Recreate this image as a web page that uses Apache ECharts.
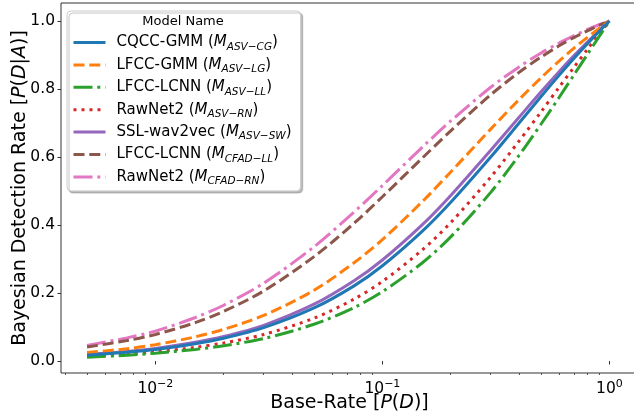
<!DOCTYPE html>
<html>
<head>
<meta charset="utf-8">
<script src="https://cdn.jsdelivr.net/npm/echarts@6/dist/echarts.min.js"></script>
<style>
  html, body { margin: 0; padding: 0; background: #fff; }
  #chart { width: 634px; height: 412px; }
</style>
</head>
<body>
<div id="chart"></div>
<script>
// base rates P(D) and P(D|A)
var baseRate = [0.005, 0.0075, 0.01, 0.015, 0.02, 0.03, 0.05, 0.075, 0.1, 0.15, 0.2, 0.3, 0.4, 0.5, 0.6, 0.7, 0.8, 0.9, 1.0]

var cqccGmm = [0.017, 0.026, 0.034, 0.051, 0.067, 0.098, 0.156, 0.221, 0.280, 0.382, 0.467, 0.600, 0.700, 0.778, 0.840, 0.891, 0.933, 0.969, 1.0]
var lfccGmm = [0.025, 0.036, 0.048, 0.071, 0.093, 0.134, 0.208, 0.289, 0.357, 0.469, 0.556, 0.682, 0.769, 0.833, 0.882, 0.921, 0.952, 0.978, 1.0]
var lfccLcnn = [0.011, 0.017, 0.023, 0.034, 0.045, 0.066, 0.108, 0.157, 0.204, 0.289, 0.365, 0.496, 0.605, 0.697, 0.775, 0.843, 0.902, 0.954, 1.0]
var rawNet2 = [0.014, 0.020, 0.027, 0.040, 0.053, 0.078, 0.126, 0.182, 0.234, 0.327, 0.407, 0.541, 0.647, 0.733, 0.805, 0.865, 0.917, 0.961, 1.0]
var sslWav2vec = [0.019, 0.028, 0.037, 0.055, 0.072, 0.105, 0.167, 0.236, 0.297, 0.401, 0.487, 0.620, 0.717, 0.792, 0.851, 0.899, 0.938, 0.972, 1.0]
var cfadLcnn = [0.041, 0.060, 0.078, 0.113, 0.146, 0.206, 0.307, 0.405, 0.483, 0.597, 0.677, 0.783, 0.849, 0.894, 0.927, 0.952, 0.971, 0.987, 1.0]
var cfadRawNet2 = [0.046, 0.068, 0.088, 0.128, 0.164, 0.229, 0.336, 0.438, 0.516, 0.629, 0.706, 0.805, 0.865, 0.906, 0.935, 0.957, 0.975, 0.989, 1.0]

var modelNames = ['CQCC-GMM', 'LFCC-GMM', 'LFCC-LCNN', 'RawNet2', 'SSL-wav2vec', 'LFCC-LCNN', 'RawNet2']
var modelSubs = ['ASV−CG', 'ASV−LG', 'ASV−LL', 'ASV−RN', 'ASV−SW', 'CFAD−LL', 'CFAD−RN']
var allValues = [cqccGmm, lfccGmm, lfccLcnn, rawNet2, sslWav2vec, cfadLcnn, cfadRawNet2]

var yTicks = [0, 0.2, 0.4, 0.6, 0.8, 1.0]
var xMajorTicks = [0.01, 0.1, 1]
var xMinorTicks = [0.004, 0.005, 0.006, 0.007, 0.008, 0.009,
  0.02, 0.03, 0.04, 0.05, 0.06, 0.07, 0.08, 0.09,
  0.2, 0.3, 0.4, 0.5, 0.6, 0.7, 0.8, 0.9]

var colors = ['#1f77b4', '#ff7f0e', '#2ca02c', '#d62728', '#9467bd', '#8c564b', '#e377c2']
var dashes = ['solid', [11, 4.8], [19, 4.8, 3, 4.8], [3, 5], 'solid', [11, 4.8], [19, 4.8, 3, 4.8]]

var FONT = 'DejaVu Sans'

var myChart = echarts.init(document.getElementById('chart'), null, { renderer: 'canvas' })

var seriesNames = modelNames.map(function(m, i) {
  return m + ' (' + modelSubs[i] + ')'
})

var series = allValues.map(function(vals, i) {
  return {
    name: seriesNames[i],
    type: 'line',
    data: baseRate.map(function(x, k) { return [x, vals[k]] }),
    symbol: 'none',
    smooth: 0.3,
    color: colors[i],
    lineStyle: { width: 3, type: dashes[i], color: colors[i], cap: 'butt' },
    z: 10 - i
  }
})

var option = {
  animation: false,
  backgroundColor: '#fff',
  grid: {
    left: 61,
    top: 3,
    width: 577,
    height: 370,
    outerBoundsMode: 'none',
    containLabel: false,
    show: true,
    borderColor: '#333',
    borderWidth: 1,
    backgroundColor: 'transparent'
  },
  graphic: [{
    type: 'text',
    x: 183,
    y: 22,
    z: 100,
    style: {
      text: 'Model Name',
      font: '13px "DejaVu Sans"',
      fill: '#000',
      textAlign: 'center',
      textVerticalAlign: 'middle'
    }
  }],
  legend: {
    orient: 'vertical',
    left: 67,
    top: 11,
    padding: [24, 9, 4, 5],
    itemWidth: 32,
    itemHeight: 14,
    itemGap: 4.9,
    backgroundColor: '#fff',
    borderColor: '#ccc',
    borderWidth: 1,
    borderRadius: 4,
    shadowColor: 'rgba(0,0,0,0.25)',
    shadowBlur: 1,
    shadowOffsetX: 2,
    shadowOffsetY: 2,
    itemStyle: { opacity: 0 },
    lineStyle: { width: 3 },
    data: seriesNames,
    formatter: function(name) {
      var i = seriesNames.indexOf(name)
      return '{n|' + modelNames[i] + ' (}{m|M}{s|' + modelSubs[i] + '}{n|)}'
    },
    textStyle: {
      padding: [0, 0, 0, 6],
      rich: {
        n: { fontFamily: FONT, fontSize: 15, color: '#000', lineHeight: 20 },
        m: { fontFamily: FONT, fontSize: 15, fontStyle: 'italic', color: '#000', lineHeight: 20 },
        s: { fontFamily: FONT, fontSize: 10.5, fontStyle: 'italic', color: '#000', lineHeight: 12, verticalAlign: 'bottom' }
      }
    }
  },
  xAxis: [
    {
      type: 'log',
      logBase: 10,
      min: 0.00384,
      max: 1.336,
      name: '{n|Base-Rate [}{i|P}{n|(}{i|D}{n|)]}',
      nameLocation: 'middle',
      nameGap: 21,
      nameMoveOverlap: false,
      nameTextStyle: {
        rich: {
          n: { fontFamily: FONT, fontSize: 19, color: '#000' },
          i: { fontFamily: FONT, fontSize: 19, fontStyle: 'italic', color: '#000' }
        }
      },
      axisLine: { show: false },
      splitLine: { show: false },
      axisTick: {
        show: true,
        inside: false,
        length: 3.5,
        customValues: xMajorTicks,
        lineStyle: { color: '#333', width: 1 }
      },
      axisLabel: {
        customValues: xMajorTicks,
        margin: 6,
        formatter: function(v) {
          var e = Math.round(Math.log10(v))
          return '{b|10}{sup|' + String(e).replace('-', '−') + '}'
        },
        rich: {
          b: { fontFamily: FONT, fontSize: 15.5, color: '#000', lineHeight: 20 },
          sup: { fontFamily: FONT, fontSize: 11, color: '#000', verticalAlign: 'top', lineHeight: 13 }
        }
      }
    },
    {
      type: 'log',
      logBase: 10,
      min: 0.00384,
      max: 1.336,
      position: 'bottom',
      axisLine: { show: false },
      splitLine: { show: false },
      axisLabel: { show: false },
      axisTick: {
        show: true,
        length: 2,
        customValues: xMinorTicks,
        lineStyle: { color: '#333', width: 0.8 }
      }
    }
  ],
  yAxis: {
    type: 'value',
    min: -0.0353,
    max: 1.0529,
    name: '{n|Bayesian Detection Rate [}{i|P}{n|(}{i|D}{n||}{i|A}{n|)]}',
    nameLocation: 'middle',
    nameGap: 31,
    nameRotate: 90,
    nameMoveOverlap: false,
    nameTextStyle: {
      rich: {
        n: { fontFamily: FONT, fontSize: 19, color: '#000' },
        i: { fontFamily: FONT, fontSize: 19, fontStyle: 'italic', color: '#000' }
      }
    },
    axisLine: { show: false },
    splitLine: { show: false },
    axisTick: {
      show: true,
      length: 3.5,
      customValues: yTicks,
      lineStyle: { color: '#333', width: 1 }
    },
    axisLabel: {
      customValues: yTicks,
      margin: 6,
      fontFamily: FONT,
      fontSize: 15.5,
      color: '#000',
      formatter: function(v) { return v.toFixed(1) }
    }
  },
  series: series
}

option && myChart.setOption(option)
</script>
</body>
</html>
